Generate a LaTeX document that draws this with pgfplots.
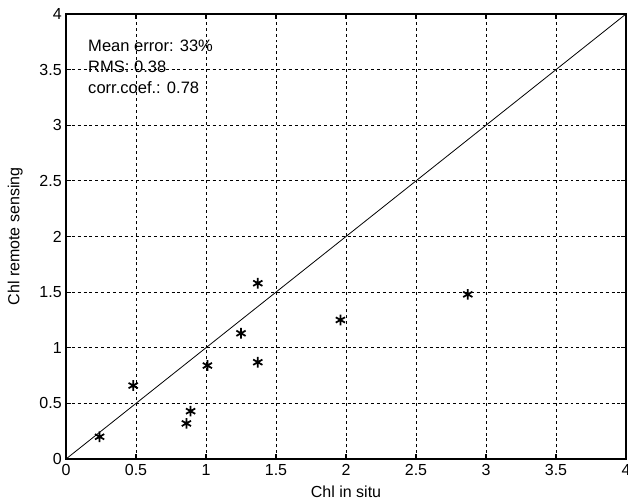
\documentclass[border=0pt]{standalone}
\usepackage{pgfplots}
\pgfplotsset{compat=1.18}
\usepackage{fontspec}
\setmainfont{Liberation Sans}

% measured chlorophyll vs. satellite estimate
\pgfplotstableread{
insitu remote
0.24 0.20
0.48 0.66
0.86 0.32
0.89 0.43
1.01 0.84
1.25 1.13
1.37 1.58
1.37 0.87
1.96 1.25
2.87 1.48
}\chldata

\begin{document}
\fontsize{12}{14}\selectfont
\begin{tikzpicture}
	% page = 628x503 px at 0.75pt/px, axis box 560x445 px
	\path[use as bounding box] (-49.5pt,-33pt) rectangle (421.5pt,344.25pt);
	\begin{axis}[
	scale only axis,
	width=420pt,
	height=333.75pt,
	at={(0,0)},
	anchor=south west,
	xmin=0, xmax=4,
	ymin=0, ymax=4,
	xtick={0,0.5,...,4},
	ytick={0,0.5,...,4},
	tick align=inside,
	major tick length=4pt,
	xtick pos=both,
	ytick pos=both,
	grid=major,
	grid style={black, dash pattern=on 2.2pt off 2.2pt, line width=0.6pt},
	axis line style={black, line width=0.9pt},
	every tick/.style={black, line width=0.9pt},
	/pgf/number format/assume math mode=true,
	ticklabel style={font=\fontsize{12}{14}\selectfont},
	xticklabel style={inner sep=0pt, anchor=north, yshift=-4pt},
	yticklabel style={inner sep=0pt, anchor=east, xshift=-3pt},
	xlabel={Chl in situ},
	ylabel={Chl remote sensing},
	label style={font=\fontsize{12}{14}\selectfont},
	xlabel style={at={(axis description cs:0.5,0)}, anchor=north, inner sep=0pt, yshift=-20pt},
	ylabel style={at={(axis description cs:-0.0905,0.5)}, anchor=center, inner sep=0pt},
	]
	\addplot[black, line width=0.6pt] coordinates {(0,0) (4,4)};
	\addplot[only marks, mark=asterisk, mark size=4pt, black, line width=1.3pt] table[x=insitu, y=remote] {\chldata};
	\node[anchor=north west, align=left, inner sep=0pt, font=\fontsize{12.4}{13.2}\selectfont] at (axis cs:0.157,3.77)
		{Mean error: 33\%\\[2.5pt]RMS: 0.38\\[2.5pt]corr.coef.: 0.78};
	\end{axis}
\end{tikzpicture}
\end{document}
